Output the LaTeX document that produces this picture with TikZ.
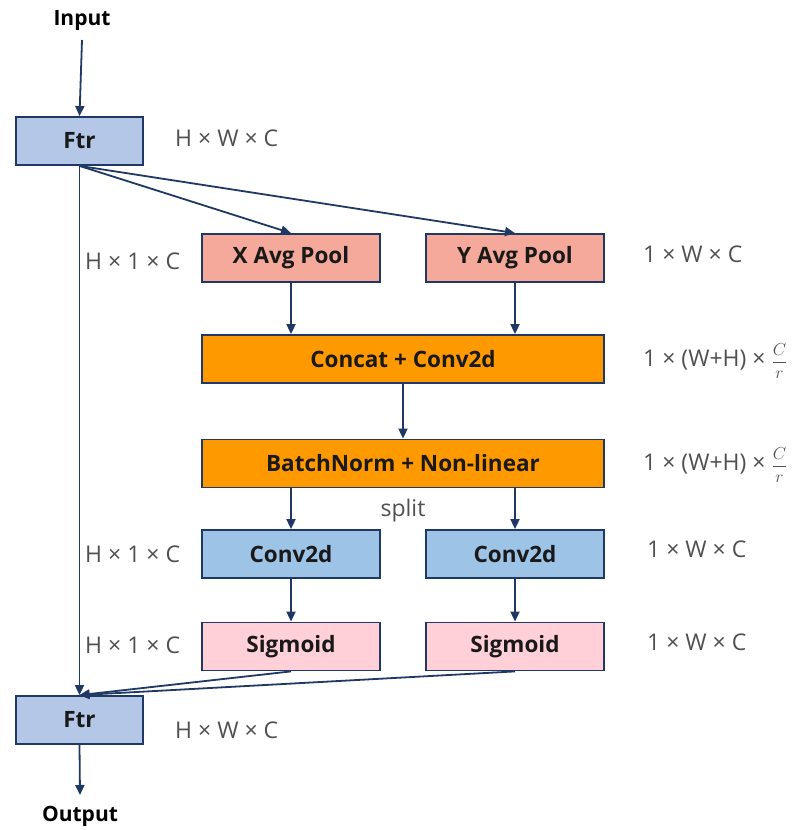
\documentclass[tikz,border=0pt]{standalone}
\usepackage{fontspec}
\setmainfont{Open Sans}
\usetikzlibrary{arrows.meta}
\definecolor{edge}{HTML}{203864}
\definecolor{ftrblue}{HTML}{B4C7E7}
\definecolor{convblue}{HTML}{9DC3E6}
\definecolor{poolred}{HTML}{F4A99B}
\definecolor{catorange}{HTML}{FF9900}
\definecolor{sigpink}{HTML}{FFD0D8}
\definecolor{dimgray}{HTML}{505050}
\newcommand{\ratio}{{\fontsize{18}{20}\selectfont$\displaystyle\frac{C}{r}$}}
\tikzset{
  blk/.style={draw=edge, line width=1.8pt, minimum height=48pt, inner sep=0pt,
    font=\fontsize{22.5}{24}\selectfont\bfseries, text=black!90},
  small/.style={blk, minimum width=178pt},
  wide/.style={blk, minimum width=402pt},
  ftr/.style={blk, fill=ftrblue, minimum width=127pt},
  dim/.style={font=\fontsize{23}{26}\selectfont, text=dimgray, anchor=west, inner sep=0pt},
  io/.style={font=\fontsize{21}{24}\selectfont\bfseries, inner sep=0pt},
  link/.style={draw=edge, line width=1.8pt, -{Triangle[length=10pt,width=9pt]}}
}
\begin{document}
\begin{tikzpicture}[x=1pt,y=-1pt]
\useasboundingbox (0,0) rectangle (792,830);

% input / output labels
\node[io] (in) at (82,21) {Input};
\node[io] (out) at (80,816) {Output};

% feature maps
\node[ftr] (f1) at (79.5,141) {Ftr};
\node[ftr] (f2) at (79.5,720) {Ftr};

% pooling branches
\node[small, fill=poolred] (xp) at (291,258) {X Avg Pool};
\node[small, fill=poolred] (yp) at (515,258) {Y Avg Pool};

% shared transform
\node[wide, fill=catorange] (cat) at (403,359) {Concat + Conv2d};
\node[wide, fill=catorange] (bn) at (403,463.5) {BatchNorm + Non-linear};

% per-direction attention
\node[small, fill=convblue] (cx) at (291,554) {Conv2d};
\node[small, fill=convblue] (cy) at (515,554) {Conv2d};
\node[small, fill=sigpink] (sx) at (291,646.5) {Sigmoid};
\node[small, fill=sigpink] (sy) at (515,646.5) {Sigmoid};

% tensor shapes
\node[dim] (d1) at (175,138) {H × W × C};
\node[dim] (d2) at (85,261) {H × 1 × C};
\node[dim] (d3) at (643,254) {1 × W × C};
\node[dim] (d4) at (643,361) {1 × (W+H) × \ratio};
\node[dim] (d5) at (643,465) {1 × (W+H) × \ratio};
\node[dim] (d6) at (85,554) {H × 1 × C};
\node[dim] (d7) at (647,549) {1 × W × C};
\node[dim] (d8) at (85,645) {H × 1 × C};
\node[dim] (d9) at (647,642) {1 × W × C};
\node[dim] (d10) at (175,730) {H × W × C};
\node[dim, anchor=center] (sp) at (403,511) {split};

% connectors
\draw[link] (in.south |- 0,40) -- (f1.north);
\draw[link] (f1.south) -- (xp.north);
\draw[link] (f1.south) -- (yp.north);
\draw[link] (f1.south) -- (f2.north);
\draw[link] (xp.south) -- (xp.south |- cat.north);
\draw[link] (yp.south) -- (yp.south |- cat.north);
\draw[link] (cat.south) -- (bn.north);
\draw[link] (bn.south -| cx.north) -- (cx.north);
\draw[link] (bn.south -| cy.north) -- (cy.north);
\draw[link] (cx.south) -- (sx.north);
\draw[link] (cy.south) -- (sy.north);
\draw[link] (sx.south) -- (f2.north);
\draw[link] (sy.south) -- (f2.north);
\draw[link] (f2.south) -- (out.north |- 0,795);
\end{tikzpicture}
\end{document}
